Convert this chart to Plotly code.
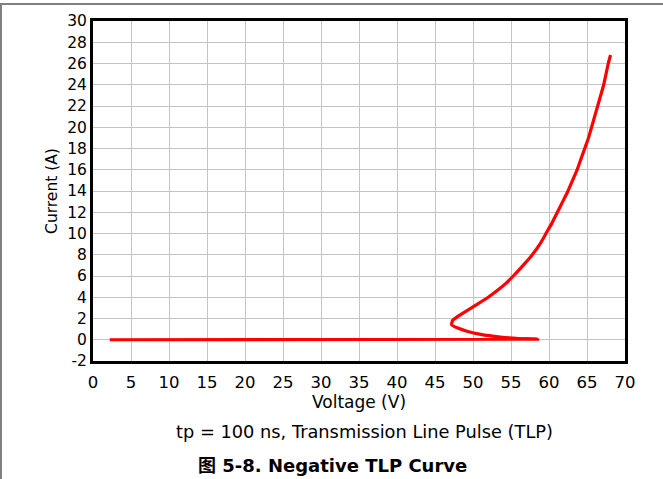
import plotly.graph_objects as go

# TLP curve data (Voltage V, Current A)
voltage = [2.2, 58.5, 56.0, 53.6, 51.0, 49.2, 48.0, 47.2, 47.3, 48.0, 50.0, 52.0,
           53.4, 54.4, 55.3, 56.6, 57.8, 58.8, 59.6, 60.4, 61.1, 61.8, 62.5, 63.1,
           63.7, 64.2, 64.7, 65.2, 65.6, 66.0, 66.4, 66.8, 67.2, 67.5, 67.8, 68.1]
current = [0.0, 0.05, 0.12, 0.25, 0.5, 0.8, 1.1, 1.4, 1.8, 2.2, 3.1, 4.0,
           4.75, 5.35, 6.0, 7.0, 8.0, 9.0, 10.0, 11.0, 12.0, 13.0, 14.0, 15.0,
           16.0, 17.0, 18.0, 19.0, 20.0, 21.0, 22.0, 23.0, 24.0, 25.0, 26.0, 26.8]

x_ticks = list(range(0, 71, 5))
y_ticks = list(range(-2, 31, 2))

FONT = "DejaVu Sans, Noto Sans CJK SC, sans-serif"

W, H = 663, 479
L, T = 93, 21
pw, ph = 532, 340
R, B = W - L - pw, H - T - ph


def px(x):
    return (x - L) / pw


def py(y):
    return (T + ph - y) / ph


fig = go.Figure()
fig.add_trace(go.Scatter(
    x=voltage, y=current, mode="lines",
    line=dict(color="#ff0000", width=3.2, shape="spline", smoothing=0.5),
    showlegend=False, hoverinfo="skip",
))

fig.update_layout(
    width=W, height=H,
    margin=dict(l=L, r=R, t=T, b=B),
    paper_bgcolor="white", plot_bgcolor="white",
    font=dict(family=FONT, size=15, color="black"),
    xaxis=dict(
        range=[0, 70], tickvals=x_ticks, ticktext=[str(v) for v in x_ticks],
        showgrid=True, gridcolor="#c4c4c4", gridwidth=1,
        showline=True, linecolor="black", linewidth=3, mirror=True,
        ticks="", zeroline=False, ticklabelstandoff=4,
        title=dict(text="Voltage (V)", font=dict(size=17), standoff=4),
        tickfont=dict(size=16.5),
    ),
    yaxis=dict(
        range=[-2, 30], tickvals=y_ticks, ticktext=[str(v) for v in y_ticks],
        showgrid=True, gridcolor="#c4c4c4", gridwidth=1,
        showline=True, linecolor="black", linewidth=3, mirror=True,
        ticks="", zeroline=False,
        title=dict(text="Current (A)", font=dict(size=15.5), standoff=6),
        tickfont=dict(size=15.5),
    ),
    annotations=[
        dict(text="tp = 100 ns, Transmission Line Pulse (TLP)", xref="paper", yref="paper",
             x=px(364), y=py(431), showarrow=False, font=dict(size=17.8),
             xanchor="center", yanchor="middle"),
        dict(text="<b>图 5-8. Negative TLP Curve</b>", xref="paper", yref="paper",
             x=px(332), y=py(465), showarrow=False, font=dict(size=18),
             xanchor="center", yanchor="middle"),
    ],
    shapes=[
        dict(type="line", xref="paper", yref="paper", x0=px(0), x1=px(663), y0=py(4), y1=py(4),
             line=dict(color="#808080", width=2)),
        dict(type="line", xref="paper", yref="paper", x0=px(1), x1=px(1), y0=py(4), y1=py(479),
             line=dict(color="#808080", width=2)),
    ],
)

fig.write_html("out.html", config={"displayModeBar": False},
               post_script="document.body.style.margin='0px';")
